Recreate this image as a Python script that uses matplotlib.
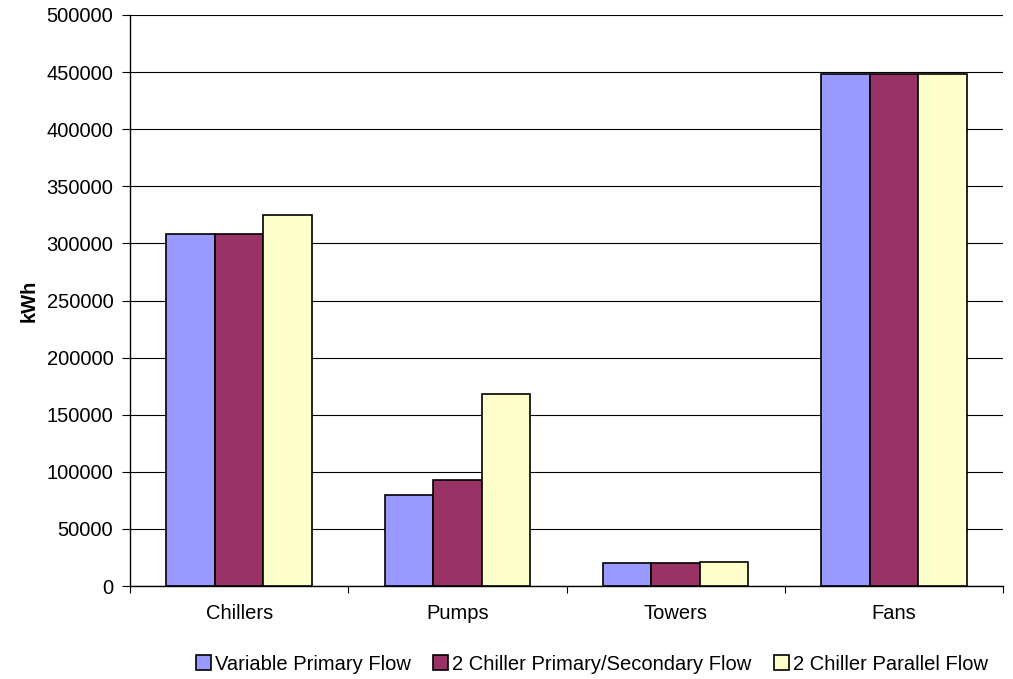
import matplotlib.pyplot as plt
import numpy as np

plt.rcParams['font.family'] = ['Liberation Sans', 'DejaVu Sans']

categories = ['Chillers', 'Pumps', 'Towers', 'Fans']
series_names = ['Variable Primary Flow', '2 Chiller Primary/Secondary Flow', '2 Chiller Parallel Flow']
variable_primary = [308000, 80000, 20000, 448000]
primary_secondary = [308000, 93000, 20000, 448000]
parallel_flow = [325000, 168000, 21000, 448000]
colors = ['#9999FF', '#993366', '#FFFFCC']

fs = 14.5

fig = plt.figure(figsize=(10.13, 6.79), dpi=100)
ax = fig.add_axes([130 / 1013, 1 - 586 / 679, 873 / 1013, 571 / 679])

x = np.arange(len(categories))
width = 1 / 4.5
for i, (vals, name) in enumerate(zip([variable_primary, primary_secondary, parallel_flow], series_names)):
    ax.bar(x + (i - 1) * width, vals, width, color=colors[i], edgecolor='black',
           linewidth=1.2, label=name, zorder=3)

ax.set_xlim(-0.5, len(categories) - 0.5)
ax.set_ylim(0, 500000)
ax.set_yticks(np.arange(0, 500001, 50000))
ax.yaxis.grid(True, color='black', linewidth=0.8, zorder=0)
ax.set_axisbelow(True)

# categories labelled in the middle, ticks on the boundaries
ax.set_xticks(np.arange(-0.5, len(categories)), minor=False)
ax.set_xticklabels([])
ax.set_xticks(x, minor=True)
ax.set_xticklabels(categories, minor=True, fontsize=fs)
ax.tick_params(axis='x', which='minor', length=0, pad=13)
ax.tick_params(axis='x', which='major', length=5, direction='out')
ax.tick_params(axis='y', length=6, labelsize=fs, pad=6)

for s in ['top', 'right']:
    ax.spines[s].set_visible(False)
ax.spines['left'].set_linewidth(1)
ax.spines['bottom'].set_linewidth(1)

ax.set_ylabel('kWh', fontsize=fs, fontweight='bold', labelpad=6)

fig.legend(loc='center', bbox_to_anchor=(592 / 1013, 1 - 664 / 679), ncol=3, frameon=False,
           fontsize=fs, handlelength=0.75, handleheight=0.75, handletextpad=0.2, columnspacing=1.1)

plt.savefig('out.png', dpi=100)
